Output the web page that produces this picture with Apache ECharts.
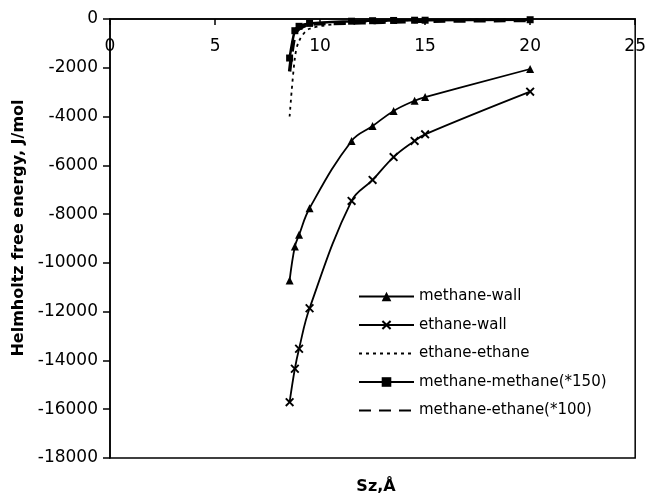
<!DOCTYPE html>
<html>
<head>
<meta charset="utf-8">
<script src="https://cdn.jsdelivr.net/npm/echarts@6/dist/echarts.min.js"></script>
<style>html,body{margin:0;padding:0;background:#fff;}#c{width:649px;height:496px;}</style>
</head>
<body>
<div id="c"></div>
<script>
// Data
const sz = [8.55, 8.8, 9.0, 9.5, 11.5, 12.5, 13.5, 14.5, 15.0, 20.0];
const methaneWall = [-10720, -9330, -8850, -7760, -5000, -4390, -3770, -3350, -3200, -2050];
const ethaneWall = [-15710, -14340, -13520, -11860, -7460, -6600, -5660, -5000, -4730, -2980];
const ethaneEthane = [-4000, -1600, -900, -400, -150, -100, -70, -50, -40, -20];
const methaneMethane = [-1600, -480, -300, -180, -90, -70, -60, -50, -50, -30];
const methaneEthane = [-2150, -650, -400, -220, -170, -140, -120, -100, -90, -60];
const seriesNames = ['methane-wall', 'ethane-wall', 'ethane-ethane', 'methane-methane(*150)', 'methane-ethane(*100)'];
const xTitle = 'Sz,\u00c5';
const yTitle = 'Helmholtz free energy, J/mol';

function pairs(ys) { return sz.map((x, i) => [x, ys[i]]); }

const FONT = 'DejaVu Sans';
const crossPath = 'path://M0,1.5 L1.5,0 L5,3.5 L8.5,0 L10,1.5 L6.5,5 L10,8.5 L8.5,10 L5,6.5 L1.5,10 L0,8.5 L3.5,5 Z';

const chart = echarts.init(document.getElementById('c'));
chart.setOption({
  animation: false,
  backgroundColor: '#fff',
  grid: { left: 110, right: 10, top: 19, bottom: 38, show: true, borderColor: '#000', borderWidth: 1.5 },
  xAxis: {
    type: 'value', position: 'top', min: 0, max: 25, interval: 5,
    axisLine: { show: true, onZero: false, lineStyle: { color: '#000', width: 1.5 } },
    axisTick: { show: true, inside: true, length: 6, lineStyle: { color: '#000', width: 1.5 } },
    axisLabel: { inside: true, margin: 19, color: '#000', fontFamily: FONT, fontSize: 17 },
    splitLine: { show: false }
  },
  yAxis: {
    type: 'value', min: -18000, max: 0, interval: 2000,
    axisLine: { show: true, onZero: false, lineStyle: { color: '#000', width: 1.5 } },
    axisTick: { show: true, inside: false, length: 7, lineStyle: { color: '#000', width: 1.5 } },
    axisLabel: { margin: 12, color: '#000', fontFamily: FONT, fontSize: 17, formatter: v => String(v) },
    splitLine: { show: false }
  },
  legend: {
    orient: 'vertical', left: 353, top: 284, itemWidth: 55, itemHeight: 12, itemGap: 13.5,
    textStyle: { color: '#000', fontFamily: FONT, fontSize: 15, lineHeight: 14 },
    data: [
      { name: seriesNames[0] },
      { name: seriesNames[1] },
      { name: seriesNames[2], itemStyle: { opacity: 0 } },
      { name: seriesNames[3] },
      { name: seriesNames[4], itemStyle: { opacity: 0 } }
    ]
  },
  graphic: [
    { type: 'text', x: 19, y: 228, rotation: Math.PI / 2,
      style: { text: yTitle, fill: '#000', font: 'bold 16px "DejaVu Sans"', align: 'center', verticalAlign: 'middle' } },
    { type: 'text', x: 376, y: 487,
      style: { text: xTitle, fill: '#000', font: 'bold 16px "DejaVu Sans"', align: 'center', verticalAlign: 'middle' } }
  ],
  series: [
    { name: seriesNames[0], type: 'line', data: pairs(methaneWall), smooth: 0.4,
      symbol: 'triangle', symbolSize: 8, itemStyle: { color: '#000' }, lineStyle: { color: '#000', width: 1.8 } },
    { name: seriesNames[1], type: 'line', data: pairs(ethaneWall), smooth: 0.4,
      symbol: crossPath, symbolSize: 9, itemStyle: { color: '#000' }, lineStyle: { color: '#000', width: 1.8 } },
    { name: seriesNames[2], type: 'line', data: pairs(ethaneEthane), smooth: 0.3,
      symbol: 'circle', symbolSize: 0, showSymbol: false, itemStyle: { color: '#000' }, lineStyle: { color: '#000', width: 1.8, type: [3, 4] } },
    { name: seriesNames[3], type: 'line', data: pairs(methaneMethane), smooth: 0.3,
      symbol: 'rect', symbolSize: 7, itemStyle: { color: '#000' }, lineStyle: { color: '#000', width: 2.5 } },
    { name: seriesNames[4], type: 'line', data: pairs(methaneEthane), smooth: 0.3,
      symbol: 'circle', symbolSize: 0, showSymbol: false, itemStyle: { color: '#000' }, lineStyle: { color: '#000', width: 3.5, type: [12, 8] } }
  ]
});
</script>
</body>
</html>
